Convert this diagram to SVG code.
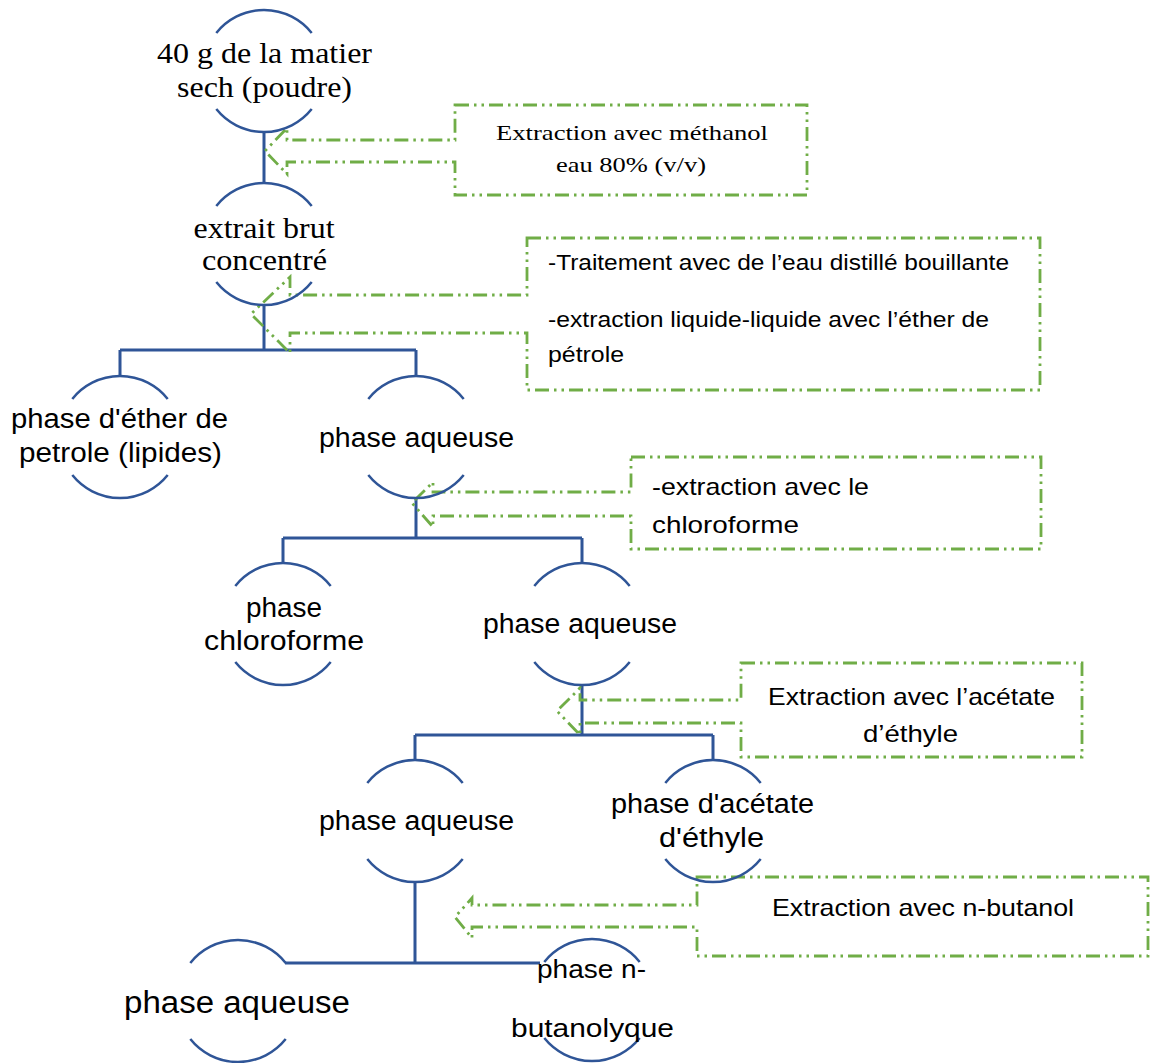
<svg xmlns="http://www.w3.org/2000/svg" width="1150" height="1063" viewBox="0 0 1150 1063">
<style>
.arc{fill:none;stroke:#2F5597;stroke-width:2.5}
.ln{fill:none;stroke:#2F5597;stroke-width:3}
.call{fill:none;stroke:#70AD47;stroke-width:2.8;stroke-dasharray:14 5 2.5 5 2.5 5}
.serif{font-family:"Liberation Serif","Times New Roman",serif;fill:#000}
.sans{font-family:"Liberation Sans",Arial,sans-serif;fill:#000}
</style>
<rect width="1150" height="1063" fill="#fff"/>
<g id="connectors">
<path class="ln" d="M264,132 V183"/>
<path class="ln" d="M264,305 V350 M120,350 H416 M120,350 V376 M416,350 V376"/>
<path class="ln" d="M416,499 V538 M283,538 H582 M283,538 V563 M582,538 V563"/>
<path class="ln" d="M582,686 V735 M415,735 H713 M415,735 V760 M713,735 V760"/>
<path class="ln" d="M415,883 V963 M285,963 H540"/>
</g>
<g id="callouts">
<path class="call" d="M455,105 H807 V195 H455 V162 H287 V174 L265,151 L287,128 V140 H455 Z"/>
<path class="call" d="M527,238 H1040 V390 H527 V333 H290 V353 L251,314 L290,277 V295 H527 Z"/>
<path class="call" d="M631,457 H1041 V549 H631 V516 H433 V527 L412,503 L433,482 V492 H631 Z"/>
<path class="call" d="M741,663 H1082 V757 H741 V723 H580 V735 L557,711 L580,688 V700 H741 Z"/>
<path class="call" d="M697,877 H1148 V956 H697 V927 H472 V938 L455,917 L472,898 V905 H697 Z"/>
</g>
<g id="callout-texts">
<text class="serif" font-size="22" text-anchor="middle" x="632" y="140" textLength="272" lengthAdjust="spacingAndGlyphs">Extraction avec méthanol</text>
<text class="serif" font-size="22" text-anchor="middle" x="631" y="172" textLength="150" lengthAdjust="spacingAndGlyphs">eau 80% (v/v)</text>
<text class="sans" font-size="22" x="548" y="270" textLength="461" lengthAdjust="spacingAndGlyphs">-Traitement avec de l’eau distillé bouillante</text>
<text class="sans" font-size="22" x="548" y="327" textLength="441" lengthAdjust="spacingAndGlyphs">-extraction liquide-liquide avec l’éther de</text>
<text class="sans" font-size="22" x="548" y="362" textLength="76" lengthAdjust="spacingAndGlyphs">pétrole</text>
<text class="sans" font-size="24" x="652" y="495" textLength="217" lengthAdjust="spacingAndGlyphs">-extraction avec le</text>
<text class="sans" font-size="24" x="652" y="533" textLength="147" lengthAdjust="spacingAndGlyphs">chloroforme</text>
<text class="sans" font-size="24" text-anchor="middle" x="911.5" y="705" textLength="287" lengthAdjust="spacingAndGlyphs">Extraction avec l’acétate</text>
<text class="sans" font-size="24" text-anchor="middle" x="910.5" y="742" textLength="95" lengthAdjust="spacingAndGlyphs">d’éthyle</text>
<text class="sans" font-size="24" text-anchor="middle" x="923" y="916" textLength="302" lengthAdjust="spacingAndGlyphs">Extraction avec n-butanol</text>
</g>
<g id="n1">
<path class="arc" d="M216.3,33 A61,61 0 0 1 311.7,33 M216.3,109 A61,61 0 0 0 311.7,109"/>
<text class="serif" font-size="30" text-anchor="middle" x="264.5" y="63" textLength="215" lengthAdjust="spacingAndGlyphs">40 g de la matier</text>
<text class="serif" font-size="30" text-anchor="middle" x="264.5" y="97" textLength="175" lengthAdjust="spacingAndGlyphs">sech (poudre)</text>
</g>
<g id="n2">
<path class="arc" d="M216.3,206 A61,61 0 0 1 311.7,206 M216.3,282 A61,61 0 0 0 311.7,282"/>
<text class="serif" font-size="30" text-anchor="middle" x="264" y="238" textLength="141" lengthAdjust="spacingAndGlyphs">extrait brut</text>
<text class="serif" font-size="30" text-anchor="middle" x="264.5" y="270" textLength="125" lengthAdjust="spacingAndGlyphs">concentré</text>
</g>
<g id="n3">
<path class="arc" d="M72.3,399 A61,61 0 0 1 167.7,399 M72.3,475 A61,61 0 0 0 167.7,475"/>
<text class="sans" font-size="27" text-anchor="middle" x="119.5" y="428" textLength="217" lengthAdjust="spacingAndGlyphs">phase d'éther de</text>
<text class="sans" font-size="27" text-anchor="middle" x="120.5" y="462" textLength="203" lengthAdjust="spacingAndGlyphs">petrole (lipides)</text>
</g>
<g id="n4">
<path class="arc" d="M368.3,399 A61,61 0 0 1 463.7,399 M368.3,475 A61,61 0 0 0 463.7,475"/>
<text class="sans" font-size="27" text-anchor="middle" x="416.5" y="447" textLength="195" lengthAdjust="spacingAndGlyphs">phase aqueuse</text>
</g>
<g id="n5">
<path class="arc" d="M235.3,586 A61,61 0 0 1 330.7,586 M235.3,662 A61,61 0 0 0 330.7,662"/>
<text class="sans" font-size="27" text-anchor="middle" x="284" y="617" textLength="76" lengthAdjust="spacingAndGlyphs">phase</text>
<text class="sans" font-size="27" text-anchor="middle" x="284" y="650" textLength="160" lengthAdjust="spacingAndGlyphs">chloroforme</text>
</g>
<g id="n6">
<path class="arc" d="M534.3,586 A61,61 0 0 1 629.7,586 M534.3,662 A61,61 0 0 0 629.7,662"/>
<text class="sans" font-size="27" text-anchor="middle" x="580" y="633" textLength="194" lengthAdjust="spacingAndGlyphs">phase aqueuse</text>
</g>
<g id="n7">
<path class="arc" d="M367.3,783 A61,61 0 0 1 462.7,783 M367.3,859 A61,61 0 0 0 462.7,859"/>
<text class="sans" font-size="27" text-anchor="middle" x="416.5" y="830" textLength="195" lengthAdjust="spacingAndGlyphs">phase aqueuse</text>
</g>
<g id="n8">
<path class="arc" d="M665.3,783 A61,61 0 0 1 760.7,783 M665.3,859 A61,61 0 0 0 760.7,859"/>
<text class="sans" font-size="27" text-anchor="middle" x="712.5" y="813" textLength="203" lengthAdjust="spacingAndGlyphs">phase d'acétate</text>
<text class="sans" font-size="27" text-anchor="middle" x="711.5" y="847" textLength="105" lengthAdjust="spacingAndGlyphs">d'éthyle</text>
</g>
<g id="n9">
<path class="arc" d="M190.3,963 A61,61 0 0 1 285.7,963 M190.3,1039 A61,61 0 0 0 285.7,1039"/>
<text class="sans" font-size="31" text-anchor="middle" x="237" y="1013" textLength="226" lengthAdjust="spacingAndGlyphs">phase aqueuse</text>
</g>
<g id="n10">
<path class="arc" d="M544.3,962 A61,61 0 0 1 639.7,962 M544.3,1038 A61,61 0 0 0 639.7,1038"/>
<text class="sans" font-size="26" text-anchor="middle" x="591.5" y="978" textLength="109" lengthAdjust="spacingAndGlyphs">phase n-</text>
<text class="sans" font-size="26" text-anchor="middle" x="592.5" y="1037" textLength="163" lengthAdjust="spacingAndGlyphs">butanolyque</text>
</g>
</svg>
